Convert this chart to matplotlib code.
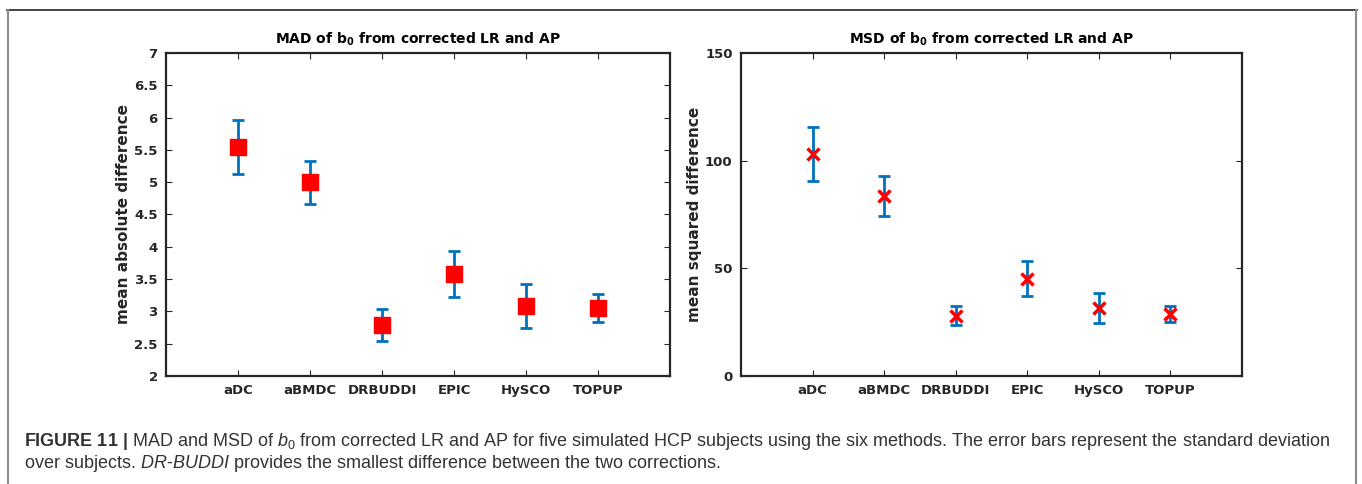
import matplotlib
matplotlib.use('Agg')
import matplotlib.pyplot as plt
from matplotlib.lines import Line2D

methods = ['aDC', 'aBMDC', 'DRBUDDI', 'EPIC', 'HySCO', 'TOPUP']
mad_mean = [5.55, 5.00, 2.79, 3.58, 3.08, 3.05]
mad_std = [0.42, 0.33, 0.25, 0.35, 0.34, 0.22]
msd_mean = [103.0, 83.5, 28.0, 45.2, 31.6, 28.9]
msd_std = [12.5, 9.3, 4.5, 8.0, 6.8, 3.8]

mad_yticks = [2, 2.5, 3, 3.5, 4, 4.5, 5, 5.5, 6, 6.5, 7]
msd_yticks = [0, 50, 100, 150]

plt.rcParams['font.family'] = ['DejaVu Sans']
plt.rcParams['mathtext.fontset'] = 'custom'
plt.rcParams['mathtext.rm'] = 'Liberation Sans'
plt.rcParams['mathtext.it'] = 'Liberation Sans:italic'
plt.rcParams['mathtext.bf'] = 'Liberation Sans:bold'

dark = '#262626'
blue = '#0072BD'

fig = plt.figure(figsize=(13.62, 4.84), dpi=100)
W, H = 1362, 484

def add_ax(x0, x1, y0, y1):
    return fig.add_axes([x0 / W, 1 - y1 / H, (x1 - x0) / W, (y1 - y0) / H])

ax1 = add_ax(166, 670, 53, 376)
ax2 = add_ax(741, 1242, 53, 376)

x = list(range(1, len(methods) + 1))

ax1.errorbar(x, mad_mean, yerr=mad_std, fmt='none', ecolor=blue, elinewidth=2,
             capsize=4.5, capthick=2, zorder=2)
ax1.plot(x, mad_mean, 's', color='red', markersize=11, zorder=3)
ax1.set_ylim(2, 7)
ax1.set_yticks(mad_yticks)
ax1.set_yticklabels([('%g' % v) for v in mad_yticks])
ax1.set_ylabel('mean absolute difference', fontsize=11, fontweight='bold', color=dark, labelpad=2)
ax1.set_title(r'MAD of b$_\mathregular{0}$ from corrected LR and AP', fontsize=10,
              fontweight='bold', color='black', pad=7)

ax2.errorbar(x, msd_mean, yerr=msd_std, fmt='none', ecolor=blue, elinewidth=2,
             capsize=4.5, capthick=2, zorder=2)
ax2.plot(x, msd_mean, 'x', color='red', markersize=8, markeredgewidth=2.5, zorder=3)
ax2.set_ylim(0, 150)
ax2.set_yticks(msd_yticks)
ax2.set_ylabel('mean squared difference', fontsize=11, fontweight='bold', color=dark, labelpad=2)
ax2.set_title(r'MSD of b$_\mathregular{0}$ from corrected LR and AP', fontsize=10,
              fontweight='bold', color='black', pad=7)

for ax in (ax1, ax2):
    ax.set_xlim(0, 7)
    ax.set_xticks(x)
    ax.set_xticklabels(methods)
    ax.tick_params(direction='in', top=True, right=True, length=4, width=0.8,
                   colors=dark, labelsize=9.5, pad=6)
    for lab in ax.get_xticklabels() + ax.get_yticklabels():
        lab.set_fontweight('bold')
    for sp in ax.spines.values():
        sp.set_linewidth(1.6)
        sp.set_color(dark)

# page frame
fig.add_artist(Line2D([7 / W, 1357 / W], [1 - 10 / H, 1 - 10 / H], color='#222222', lw=1.2))
fig.add_artist(Line2D([8 / W, 8 / W], [1 - 10 / H, 0], color='#8c8c8c', lw=1.5))
fig.add_artist(Line2D([1356 / W, 1356 / W], [1 - 10 / H, 0], color='#8c8c8c', lw=1.5))

cap1 = (r'$\mathbf{FIGURE\ 11\ |}$ MAD and MSD of $\mathit{b}_0$ from corrected LR and AP for five '
        'simulated HCP subjects using the six methods. The error bars represent the standard deviation')
cap2 = r'over subjects. $\mathit{DR}$-$\mathit{BUDDI}$ provides the smallest difference between the two corrections.'
fig.text(24 / W, 1 - 442 / H, cap1, fontsize=12.95, family='Liberation Sans', color='#333333', va='center')
fig.text(24 / W, 1 - 463 / H, cap2, fontsize=12.95, family='Liberation Sans', color='#333333', va='center')

fig.savefig('out.png', dpi=100, facecolor='white')
